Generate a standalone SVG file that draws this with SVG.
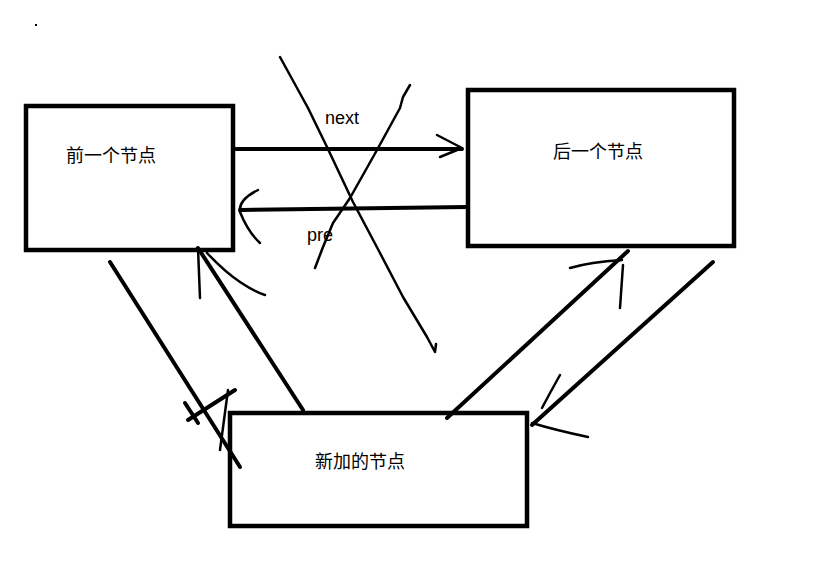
<svg xmlns="http://www.w3.org/2000/svg" width="833" height="562" viewBox="0 0 833 562">
<style>
.box{fill:none;stroke:#000;stroke-width:4.5}
.ln{fill:none;stroke:#000;stroke-width:4;stroke-linecap:round}
.hand{fill:none;stroke:#000;stroke-width:2.5;stroke-linecap:round;stroke-linejoin:round}
.t{font-family:"Noto Sans CJK SC","Liberation Sans",sans-serif;font-size:18px;fill:#000}
.l{font-family:"Liberation Sans",Arial,sans-serif;font-size:18px;fill:#000}
</style>
<rect width="833" height="562" fill="#fff"/>
<rect x="35" y="24" width="2" height="2" fill="#000"/>
<g id="node-prev">
<rect class="box" x="26" y="106" width="207" height="144"/>
<text class="t" x="66" y="162">前一个节点</text>
</g>
<g id="node-next">
<rect class="box" x="468" y="90" width="266" height="156"/>
<text class="t" x="553" y="158">后一个节点</text>
</g>
<g id="node-new">
<rect class="box" x="230" y="413" width="297" height="113"/>
<text class="t" x="315" y="468">新加的节点</text>
</g>
<g id="connectors">
<line class="ln" x1="236" y1="149" x2="462" y2="149"/>
<path class="hand" d="M437,135 L462,148 L440,157"/>
<text class="l" x="325" y="124">next</text>
<path class="ln" d="M467,207 L240,210"/>
<path class="hand" d="M258,190 Q238,200 240,212 Q248,232 260,243"/>
<text class="l" x="307" y="241">pre</text>
<path class="hand" d="M280,57 L308,108 L327,147 L353,202 L380,253 L403,297 L427,337 L435,352 L436,344"/>
<path class="hand" d="M410,85 L403,97 L400,108 L377,150 L350,198 L333,223 L323,247 L315,268"/>
<line class="ln" x1="110" y1="262" x2="240" y2="467"/>
<line class="ln" x1="198" y1="248" x2="303" y2="410"/>
<path class="hand" d="M198,248 L200,298"/>
<path class="hand" d="M207,253 Q225,272 240,282 Q255,292 265,295"/>
<path class="ln" d="M185,403 L198,423"/>
<path class="ln" d="M188,420 L235,390"/>
<path class="hand" d="M228,390 L220,450"/>
<line class="ln" x1="447" y1="418" x2="628" y2="251"/>
<line class="ln" x1="713" y1="262" x2="532" y2="425"/>
<path class="hand" d="M570,268 Q590,262 622,260"/>
<path class="hand" d="M623,265 L620,308"/>
<path class="hand" d="M560,375 L550,393 L542,408"/>
<path class="hand" d="M532,423 Q555,430 588,437"/>
</g>
</svg>
